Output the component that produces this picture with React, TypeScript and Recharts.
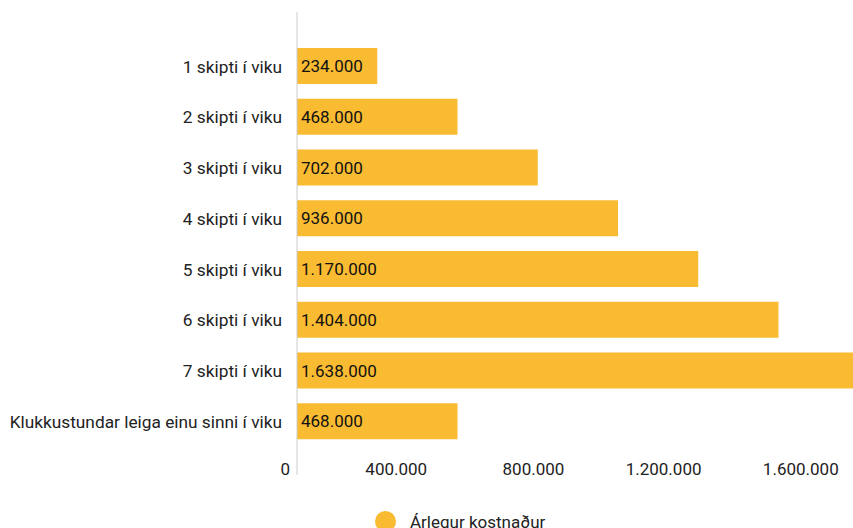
import { BarChart, Bar, XAxis, YAxis, Legend, LabelList } from 'recharts';

const categories = [
  '1 skipti í viku',
  '2 skipti í viku',
  '3 skipti í viku',
  '4 skipti í viku',
  '5 skipti í viku',
  '6 skipti í viku',
  '7 skipti í viku',
  'Klukkustundar leiga einu sinni í viku',
];
const annualCost = [234000, 468000, 702000, 936000, 1170000, 1404000, 1638000, 468000];
const xTicks = [0, 400000, 800000, 1200000, 1600000];
const seriesName = 'Árlegur kostnaður';

const data = categories.map((name, i) => ({ name, cost: annualCost[i] }));

const FONT = 'Roboto, "Noto Sans", sans-serif';
const BAR_COLOR = '#F9BB31';

const formatIs = (v: number) => String(v).replace(/\B(?=(\d{3})+(?!\d))/g, '.');

const XTick = ({ x, y, payload }: any) => (
  <text x={x - 7} y={y - 2.5} textAnchor="end" fontSize={17} fontFamily={FONT} fill="#222">
    {formatIs(payload.value)}
  </text>
);

const LegendContent = () => (
  <div style={{ height: 33, display: 'flex', alignItems: 'center', paddingLeft: 375, paddingBottom: 3, fontFamily: FONT, fontSize: 17, color: '#222' }}>
    <span style={{ width: 21, height: 21, borderRadius: '50%', background: BAR_COLOR, display: 'inline-block', marginRight: 14 }} />
    <span>{seriesName}</span>
  </div>
);

export default function App() {
  return (
    <div style={{ position: 'fixed', left: 0, top: 0, width: 853, height: 528, overflow: 'hidden', background: '#fff' }}>
      <BarChart
        width={880}
        height={541}
        data={data}
        layout="vertical"
        margin={{ top: 12, right: 0, bottom: 0, left: 0 }}
      >
        <XAxis
          type="number"
          domain={[0, 1700000]}
          ticks={xTicks}
          axisLine={false}
          tickLine={false}
          tickSize={0}
          height={30}
          tick={<XTick />}
        />
        <YAxis
          type="category"
          dataKey="name"
          width={297}
          padding={{ top: 29, bottom: 28 }}
          axisLine={{ stroke: '#cccccc' }}
          tickLine={false}
          tickSize={0}
          tickMargin={15}
          interval={0}
          tick={{ fontSize: 17.3, fontFamily: FONT, fill: '#222' }}
        />
        <Legend verticalAlign="bottom" height={36} wrapperStyle={{ left: 0, width: 853 }} content={<LegendContent />} />
        <Bar dataKey="cost" name={seriesName} fill={BAR_COLOR} barSize={36} isAnimationActive={false}>
          <LabelList
            dataKey="cost"
            position="insideLeft"
            offset={4}
            formatter={(v: any) => formatIs(Number(v))}
            style={{ fontSize: 17, fontFamily: FONT, fill: '#111' }}
          />
        </Bar>
      </BarChart>
    </div>
  );
}
